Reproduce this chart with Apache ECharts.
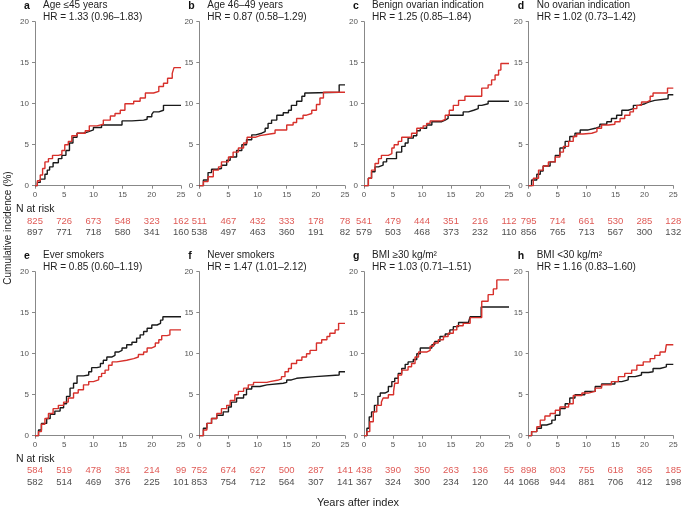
<!DOCTYPE html>
<html>
<head>
<meta charset="utf-8">
<script src="https://cdn.jsdelivr.net/npm/echarts@6/dist/echarts.min.js"></script>
<style>html,body{margin:0;padding:0;background:#fff}#c{width:681px;height:510px}</style>
</head>
<body>
<div id="c"></div>
<script>
const panelLetters = ['a','b','c','d','e','f','g','h'];
const panelTitles = ['Age ≤45 years','Age 46–49 years','Benign ovarian indication','No ovarian indication','Ever smokers','Never smokers','BMI ≥30 kg/m²','BMI <30 kg/m²'];
const hrTexts = ['HR = 1.33 (0.96–1.83)','HR = 0.87 (0.58–1.29)','HR = 1.25 (0.85–1.84)','HR = 1.02 (0.73–1.42)','HR = 0.85 (0.60–1.19)','HR = 1.47 (1.01–2.12)','HR = 1.03 (0.71–1.51)','HR = 1.16 (0.83–1.60)'];
const yTicks = [0,5,10,15,20];
const xTicks = [0,5,10,15,20,25];
const riskYears = [0,5,10,15,20,25];
const riskRed = [[825,726,673,548,323,162],[511,467,432,333,178,78],[541,479,444,351,216,112],[795,714,661,530,285,128],[584,519,478,381,214,99],[752,674,627,500,287,141],[438,390,350,263,136,55],[898,803,755,618,365,185]];
const riskBlack = [[897,771,718,580,341,160],[538,497,463,360,191,82],[579,503,468,373,232,110],[856,765,713,567,300,132],[582,514,469,376,225,101],[853,754,712,564,307,141],[367,324,300,234,120,44],[1068,944,881,706,412,198]];

const aRed = [[0,0],[0.4,0.6],[0.9,1.3],[1.3,2.1],[1.7,2.9],[2.3,3.3],[3.0,3.7],[4.0,3.8],[4.6,4.3],[5.1,5.0],[5.7,5.4],[6.3,6.1],[7.2,6.4],[8.6,6.7],[9.3,7.3],[10.6,7.5],[11.7,8.0],[12.9,8.5],[13.7,8.8],[14.6,9.2],[15.4,10.0],[16.9,10.3],[18.0,10.7],[18.9,11.3],[20.3,11.5],[21.2,12.1],[22.0,12.5],[22.7,13.1],[23.5,13.7],[23.8,14.4],[25,14.4]];
const aBlack = [[0,0],[0.4,0.4],[0.9,0.8],[1.7,1.4],[2.1,1.9],[2.5,2.3],[3.1,2.8],[4.0,3.3],[4.6,3.7],[5.3,4.3],[5.9,5.2],[6.5,5.9],[7.2,6.4],[8.3,6.6],[9.2,6.8],[10.0,7.1],[11.4,7.4],[14.9,7.9],[16.6,8.0],[18.6,8.1],[19.2,8.4],[20.0,8.7],[20.3,9.0],[21.2,9.2],[22.0,9.8],[25,9.8]];
const bRed = [[0,0],[0.7,0.5],[1.5,1.1],[2.4,1.9],[3.3,2.3],[3.8,2.9],[5.0,3.5],[5.8,4.1],[6.7,4.6],[7.6,5.2],[8.2,5.9],[9.6,6.1],[10.4,6.3],[12.1,6.4],[13.0,6.8],[15.0,7.4],[16.1,7.7],[16.7,8.2],[17.8,8.6],[18.4,8.8],[19.3,9.2],[20.1,9.9],[20.7,10.7],[21.3,11.4],[25,11.4]];
const bBlack = [[0,0],[0.7,0.7],[1.5,1.6],[2.1,2.0],[3.0,2.1],[3.8,2.5],[4.7,3.1],[5.3,3.5],[6.4,4.3],[7.3,5.0],[8.1,5.6],[9.0,6.2],[9.7,6.4],[10.7,6.6],[11.3,7.0],[11.8,7.6],[12.4,8.0],[13.3,8.6],[14.4,8.9],[15.3,9.2],[15.8,9.8],[16.7,10.3],[17.6,10.9],[18.1,11.3],[18.7,11.4],[24.0,12.3],[25,12.3]];
const cRed = [[0,0],[0.75,0.9],[1.3,1.9],[1.9,2.7],[2.5,3.3],[3.0,3.7],[4.2,3.9],[4.8,4.6],[5.2,5.0],[5.9,5.4],[6.5,5.9],[8.2,6.4],[9.1,7.0],[10.2,7.3],[10.8,7.6],[11.4,7.9],[13.4,8.1],[14.0,8.6],[14.7,9.2],[15.4,9.8],[16.3,10.4],[17.4,10.9],[20.3,11.9],[21.4,12.3],[22.0,12.9],[22.6,13.5],[23.2,14.1],[23.6,14.9],[25,14.9]];
const cBlack = [[0,0],[0.75,0.9],[1.3,1.7],[1.9,2.3],[2.5,2.5],[3.3,2.9],[3.9,3.3],[5.6,4.1],[6.5,4.8],[7.1,5.2],[7.6,5.8],[8.5,6.1],[9.1,6.7],[9.7,7.0],[10.8,7.4],[11.7,7.8],[13.4,8.0],[14.0,8.2],[14.5,8.6],[17.1,9.0],[18.0,9.2],[18.9,9.4],[19.7,9.8],[20.3,10.0],[21.4,10.3],[25,10.3]];
const dRed = [[0,0],[0.8,0.9],[1.7,1.9],[2.5,2.4],[3.4,2.9],[4.6,3.5],[5.4,4.1],[6.0,4.8],[6.9,5.4],[7.7,6.0],[8.3,6.3],[9.4,6.4],[10.9,6.6],[11.8,7.0],[12.6,7.4],[13.8,7.5],[14.9,7.8],[15.8,8.2],[16.6,8.6],[17.5,9.0],[18.1,9.4],[18.7,9.8],[19.5,10.2],[20.4,10.4],[21.0,10.9],[21.5,11.3],[24.0,11.9],[25,11.9]];
const dBlack = [[0,0],[0.5,0.7],[1.4,1.4],[2.0,1.8],[2.5,2.4],[3.7,2.9],[4.6,3.7],[5.4,4.6],[6.3,5.4],[7.1,6.0],[8.0,6.4],[8.9,6.8],[10.3,7.0],[11.5,7.2],[12.3,7.5],[13.5,7.8],[14.3,8.2],[15.2,8.6],[16.1,9.2],[17.2,9.4],[18.1,9.8],[19.0,10.0],[20.1,10.2],[20.7,10.4],[21.8,10.6],[24.1,11.1],[25,11.1]];
const eRed = [[0,0],[0.6,0.5],[1.1,1.4],[1.7,2.1],[2.3,2.7],[3.1,3.3],[4.0,3.7],[4.9,4.1],[5.7,4.6],[6.6,5.2],[7.4,5.6],[8.3,6.2],[9.2,6.6],[10.0,6.8],[10.9,7.2],[11.4,7.6],[12.0,8.0],[12.6,8.6],[13.2,9.0],[14.0,9.2],[15.7,9.4],[16.9,9.6],[17.7,9.9],[18.6,10.2],[19.2,10.7],[20.0,10.9],[20.6,11.3],[21.2,11.7],[21.7,12.2],[22.6,12.3],[23.1,12.9],[25,12.9]];
const eBlack = [[0,0],[0.6,0.7],[1.1,1.5],[2.0,2.1],[2.6,2.6],[3.4,3.0],[4.3,3.4],[4.9,3.9],[5.4,4.8],[6.0,5.8],[6.6,6.4],[7.2,7.3],[8.3,7.4],[9.2,7.8],[9.7,8.3],[10.6,8.4],[11.2,8.8],[11.7,9.2],[12.3,9.6],[13.2,9.8],[13.7,10.2],[14.3,10.4],[14.9,10.7],[15.7,11.1],[16.6,11.4],[17.4,11.9],[18.0,12.3],[18.6,12.7],[19.2,13.1],[20.0,13.5],[20.9,13.7],[21.5,14.1],[21.9,14.5],[25,14.5]];
const fRed = [[0,0],[0.7,0.7],[1.3,1.5],[2.1,2.1],[3.0,2.7],[3.8,3.3],[4.7,3.7],[5.3,4.3],[6.1,5.0],[6.7,5.4],[7.6,5.8],[8.4,6.2],[9.3,6.5],[11.6,6.6],[12.1,6.8],[13.6,6.9],[14.1,7.2],[14.7,7.8],[15.3,8.2],[15.8,8.8],[16.7,9.2],[17.6,9.6],[18.4,10.0],[19.0,10.4],[20.1,11.3],[21.0,11.7],[21.9,12.1],[22.4,12.5],[23.3,12.9],[23.9,13.7],[25,13.7]];
const fBlack = [[0,0],[0.7,0.9],[1.3,1.5],[2.1,2.1],[3.0,2.5],[4.1,2.9],[5.0,3.5],[5.5,4.1],[6.4,4.6],[7.6,5.0],[8.1,5.7],[9.0,6.0],[10.4,6.2],[11.6,6.4],[14.4,6.5],[15.0,6.8],[15.8,7.0],[16.7,7.2],[19.9,7.4],[24.0,7.8],[25,7.8]];
const gRed = [[0,0],[0.5,0.5],[1.0,1.7],[1.6,2.9],[2.2,3.7],[3.0,4.1],[3.3,4.6],[4.2,5.0],[5.1,5.4],[5.3,6.4],[5.9,7.4],[6.5,8.0],[7.6,8.4],[8.2,8.8],[8.8,9.6],[9.4,10.2],[10.8,10.4],[11.4,10.9],[12.0,11.3],[12.8,11.7],[13.7,12.1],[14.5,12.5],[15.4,12.9],[16.0,13.4],[17.1,13.7],[18.3,14.4],[20.3,16.4],[21.4,17.2],[22.3,17.9],[22.9,19.0],[25,19.0]];
const gBlack = [[0,0],[0.5,0.9],[0.9,2.3],[1.3,2.9],[1.8,3.7],[2.4,4.8],[2.8,5.2],[3.6,5.4],[4.2,6.0],[4.8,6.6],[5.3,7.0],[5.9,7.6],[6.5,8.2],[7.1,8.7],[7.6,9.0],[8.5,9.3],[9.1,10.0],[9.7,10.7],[11.7,11.1],[12.2,11.5],[13.1,12.1],[14.0,12.4],[14.8,12.9],[15.4,13.3],[16.3,13.8],[18.0,13.9],[18.3,14.5],[20.2,15.7],[25,15.7]];
const hRed = [[0,0],[0.5,0.5],[1.4,1.1],[2.0,1.9],[2.8,2.4],[3.7,2.7],[4.6,3.1],[5.4,3.5],[6.9,3.9],[7.7,4.9],[9.2,5.2],[10.3,5.4],[11.5,5.8],[12.6,6.2],[14.3,6.6],[15.5,7.2],[16.6,7.6],[17.8,8.0],[18.7,8.6],[19.8,9.0],[21.0,9.4],[21.8,9.8],[22.7,10.2],[23.6,10.4],[23.8,11.1],[25,11.1]];
const hBlack = [[0,0],[0.5,0.5],[1.4,0.9],[2.2,1.3],[3.1,1.5],[4.0,1.9],[4.6,2.5],[5.4,3.3],[6.3,3.9],[7.1,4.6],[8.0,5.0],[9.7,5.4],[11.5,6.0],[12.6,6.3],[14.9,6.6],[16.1,6.8],[17.2,7.2],[18.4,7.4],[19.5,7.7],[20.7,7.8],[21.5,8.2],[22.7,8.4],[23.8,8.7],[25,8.7]];

const redCurves = [aRed,bRed,cRed,dRed,eRed,fRed,gRed,hRed];
const blackCurves = [aBlack,bBlack,cBlack,dBlack,eBlack,fBlack,gBlack,hBlack];

const RED = '#d7302b', BLACK = '#1a1a1a';
const FONT = '"Liberation Sans", Arial, Helvetica, sans-serif';
const plotLeft = [35, 199.3, 364, 528.7];
const plotWidth = [146, 145.7, 145, 144.6];
const plotTop = [21.7, 271.7];
const plotHeight = 164;
const riskTop = [221, 470.7];

const grids = [], xAxes = [], yAxes = [], series = [], graphics = [];
for (let i = 0; i < 8; i++) {
  const row = i < 4 ? 0 : 1, col = i % 4;
  grids.push({left: plotLeft[col], top: plotTop[row], width: plotWidth[col], height: plotHeight, containLabel: false});
  xAxes.push({gridIndex: i, type: 'value', min: 0, max: 25, interval: 5,
    axisLine: {lineStyle: {color: '#888', width: 1}},
    axisTick: {length: 3, lineStyle: {color: '#888'}},
    axisLabel: {fontSize: 8, color: '#555', margin: 5, fontFamily: FONT},
    splitLine: {show: false}});
  yAxes.push({gridIndex: i, type: 'value', min: 0, max: 20, interval: 5,
    axisLine: {show: true, lineStyle: {color: '#888', width: 1}},
    axisTick: {show: true, length: 3, lineStyle: {color: '#888'}},
    axisLabel: {fontSize: 8, color: '#555', margin: 6, fontFamily: FONT},
    splitLine: {show: false}});
  series.push({type: 'line', step: 'end', xAxisIndex: i, yAxisIndex: i, data: blackCurves[i],
    symbol: 'none', lineStyle: {color: BLACK, width: 1.4}, silent: true, animation: false});
  series.push({type: 'line', step: 'end', xAxisIndex: i, yAxisIndex: i, data: redCurves[i],
    symbol: 'none', lineStyle: {color: RED, width: 1.4}, silent: true, animation: false});
  graphics.push({type: 'text', style: {text: panelLetters[i], x: plotLeft[col] - 11, y: row ? 255.7 : 5.7,
    font: 'bold 10.5px ' + FONT, fill: '#111', verticalAlign: 'middle', textVerticalAlign: 'middle'}});
  graphics.push({type: 'text', style: {text: panelTitles[i], x: plotLeft[col] + 8, y: row ? 255.7 : 5.7,
    font: '10px ' + FONT, fill: '#222', verticalAlign: 'middle', textVerticalAlign: 'middle'}});
  graphics.push({type: 'text', style: {text: hrTexts[i], x: plotLeft[col] + 8, y: row ? 267.3 : 17.3,
    font: '10px ' + FONT, fill: '#222', verticalAlign: 'middle', textVerticalAlign: 'middle'}});
}
for (let i = 0; i < 8; i++) {
  const row = i < 4 ? 0 : 1, col = i % 4;
  const gi = 8 + i;
  grids.push({left: plotLeft[col], top: riskTop[row], width: plotWidth[col], height: 11.5});
  xAxes.push({gridIndex: gi, type: 'value', min: 0, max: 25, show: false});
  yAxes.push({gridIndex: gi, type: 'value', min: 0, max: 1, inverse: true, show: false});
  const mk = (vals, y, color) => ({type: 'scatter', xAxisIndex: gi, yAxisIndex: gi, clip: false, silent: true, animation: false,
    symbolSize: 1, itemStyle: {color: 'rgba(0,0,0,0)'},
    data: riskYears.map((x, j) => [x, y, vals[j]]),
    label: {show: true, position: 'inside', formatter: p => String(p.data[2]), color: color, fontSize: 9.5, fontFamily: FONT}});
  series.push(mk(riskRed[i], 0, RED));
  series.push(mk(riskBlack[i], 1, BLACK));
}
['N at risk','N at risk'].forEach((t, r) => graphics.push({type: 'text', style: {text: t, x: 16, y: r ? 459.3 : 209,
  font: '10.5px ' + FONT, fill: '#222', verticalAlign: 'middle', textVerticalAlign: 'middle'}}));
graphics.push({type: 'text', rotation: Math.PI / 2, x: 8, y: 228, style: {text: 'Cumulative incidence (%)', x: 0, y: 0,
  font: '10px ' + FONT, fill: '#222', align: 'center', textAlign: 'center', verticalAlign: 'middle', textVerticalAlign: 'middle'}});
graphics.push({type: 'text', style: {text: 'Years after index', x: 358, y: 503,
  font: '11px ' + FONT, fill: '#222', align: 'center', textAlign: 'center', verticalAlign: 'middle', textVerticalAlign: 'middle'}});

const chart = echarts.init(document.getElementById('c'), null, {renderer: 'canvas'});
chart.setOption({animation: false, grid: grids, xAxis: xAxes, yAxis: yAxes, series: series, graphic: graphics});
</script>
</body>
</html>
